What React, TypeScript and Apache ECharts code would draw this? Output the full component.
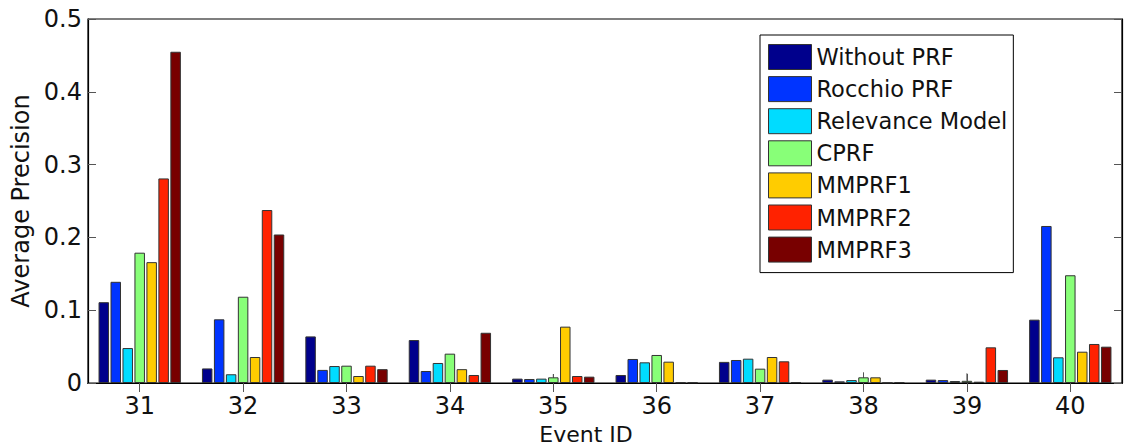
import React, { useEffect, useRef } from "react";
import * as echarts from "echarts";

const categories = ["31", "32", "33", "34", "35", "36", "37", "38", "39", "40"];
const seriesNames = ["Without PRF", "Rocchio PRF", "Relevance Model", "CPRF", "MMPRF1", "MMPRF2", "MMPRF3"];
const withoutPRF = [0.111, 0.02, 0.064, 0.059, 0.006, 0.011, 0.029, 0.0046, 0.0046, 0.087];
const rocchioPRF = [0.139, 0.0875, 0.018, 0.0165, 0.0055, 0.033, 0.0316, 0.0023, 0.004, 0.2157];
const relevanceModel = [0.048, 0.012, 0.0233, 0.0275, 0.006, 0.0284, 0.0334, 0.004, 0.0027, 0.0353];
const cprf = [0.179, 0.1185, 0.0238, 0.0403, 0.0078, 0.0385, 0.0197, 0.0078, 0.003, 0.148];
const mmprf1 = [0.166, 0.0357, 0.0096, 0.019, 0.0774, 0.0293, 0.0357, 0.0078, 0.0018, 0.043];
const mmprf2 = [0.281, 0.2376, 0.0238, 0.011, 0.0096, 0.0008, 0.0298, 0.0005, 0.049, 0.0536];
const mmprf3 = [0.455, 0.204, 0.019, 0.069, 0.0087, 0.0008, 0.001, 0.001, 0.0179, 0.0499];
const cprfWhiskerTop = [null, null, null, null, 0.0123, null, null, 0.0147, 0.0133, null];
const colors = ["#00008c", "#0034ff", "#00dcff", "#88ff78", "#ffcc00", "#ff2200", "#780000"];
const yTicks = [0, 0.1, 0.2, 0.3, 0.4, 0.5];

const FONT = "DejaVu Sans";

export default function App() {
  const ref = useRef<HTMLDivElement>(null);
  useEffect(() => {
    if (!ref.current) return;
    const chart = echarts.init(ref.current, null, { renderer: "svg" });
    const values = [withoutPRF, rocchioPRF, relevanceModel, cprf, mmprf1, mmprf2, mmprf3];
    const barSeries = seriesNames.map((name, i) => ({
      name,
      type: "bar",
      data: values[i],
      barWidth: 10.5,
      barGap: "14%",
      itemStyle: { color: colors[i], borderColor: "#333", borderWidth: 1 },
    }));
    const whisker = {
      type: "custom",
      name: "cprf-err",
      z: 3,
      data: categories.map((_, i) => [i, cprf[i], cprfWhiskerTop[i]]),
      renderItem: (params: any, api: any) => {
        const top = api.value(2);
        if (top == null || isNaN(top)) return null;
        const p0 = api.coord([api.value(0), api.value(1)]);
        const p1 = api.coord([api.value(0), top]);
        return {
          type: "line",
          shape: { x1: p0[0], y1: p0[1], x2: p1[0], y2: p1[1] },
          style: { stroke: "#555", lineWidth: 1 },
        };
      },
    };
    chart.setOption({
      animation: false,
      backgroundColor: "#fff",
      textStyle: { fontFamily: FONT },
      grid: {
        left: 88, right: 3, top: 19, bottom: 64,
        outerBoundsMode: "none",
        containLabel: false,
        show: true, borderColor: "#000", borderWidth: 1.2, backgroundColor: "transparent",
      },
      legend: {
        data: seriesNames,
        orient: "vertical",
        left: 760,
        top: 35,
        icon: "rect",
        itemWidth: 43,
        itemHeight: 25,
        itemGap: 6.1,
        padding: [9, 6, 10, 8],
        backgroundColor: "#fff",
        borderColor: "#000",
        borderWidth: 1,
        itemStyle: { borderColor: "#333", borderWidth: 1 },
        textStyle: { fontFamily: FONT, fontSize: 22.5, lineHeight: 24, color: "#111", padding: [0, 0, 0, 0] },
        selectedMode: false,
      },
      xAxis: [
        {
          type: "category",
          data: categories,
          position: "bottom",
          axisLine: { show: true, lineStyle: { color: "#000", width: 1.2 } },
          axisTick: { show: true, inside: true, alignWithLabel: true, length: 9, lineStyle: { color: "#555" } },
          axisLabel: { fontFamily: FONT, fontSize: 24, color: "#111", margin: 11 },
          name: "Event ID",
          nameLocation: "middle",
          nameGap: 29,
          nameTextStyle: { fontFamily: FONT, fontSize: 22, lineHeight: 24, color: "#111", padding: [0, 38, 0, 0] },
        },
        {
          type: "category",
          data: categories,
          position: "top",
          axisLine: { show: true, lineStyle: { color: "#000", width: 1.2 } },
          axisTick: { show: true, inside: true, alignWithLabel: true, length: 9, lineStyle: { color: "#555" } },
          axisLabel: { show: false },
        },
      ],
      yAxis: [
        {
          type: "value",
          min: 0,
          max: 0.5,
          interval: 0.1,
          position: "left",
          axisLine: { show: true, lineStyle: { color: "#000", width: 1.2 } },
          axisTick: { show: true, inside: true, length: 8, lineStyle: { color: "#555" } },
          splitLine: { show: false },
          axisLabel: {
            fontFamily: FONT, fontSize: 24, color: "#111", margin: 6,
            formatter: (v: number) => (v === 0 ? "0" : yTicks.includes(Math.round(v * 10) / 10) ? v.toFixed(1) : ""),
          },
          name: "Average Precision",
          nameLocation: "middle",
          nameGap: 53,
          nameTextStyle: { fontFamily: FONT, fontSize: 24, color: "#111" },
        },
        {
          type: "value",
          min: 0,
          max: 0.5,
          interval: 0.1,
          position: "right",
          axisLine: { show: true, lineStyle: { color: "#000", width: 1.2 } },
          axisTick: { show: true, inside: true, length: 8, lineStyle: { color: "#555" } },
          splitLine: { show: false },
          axisLabel: { show: false },
        },
      ],
      series: [...barSeries, whisker],
    });
    return () => chart.dispose();
  }, []);
  return <div ref={ref} style={{ position: "fixed", left: 0, top: 0, width: 1125, height: 447 }} />;
}
